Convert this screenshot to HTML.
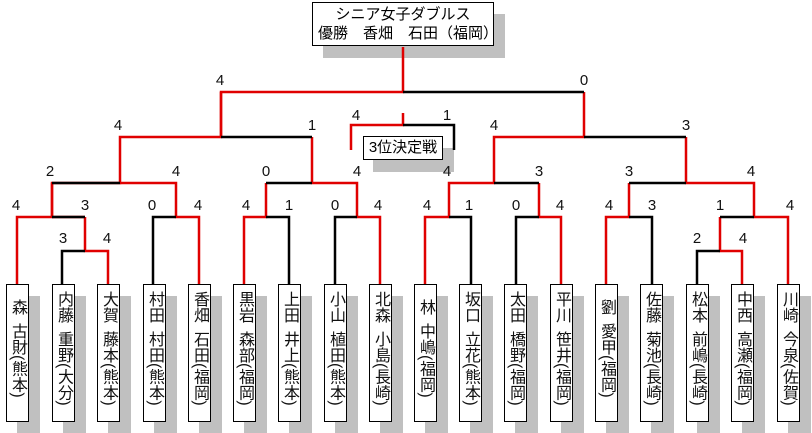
<!DOCTYPE html>
<html><head><meta charset="utf-8"><style>
body{margin:0;background:#fff;width:812px;height:433px;overflow:hidden;position:relative;font-family:"Liberation Sans","Noto Sans CJK JP",sans-serif}
.sh{position:absolute;background:#c0c0c0}
.bx{position:absolute;background:#fff;border:1px solid #000;box-sizing:border-box}
.p{width:23px;height:138px;top:284px;writing-mode:vertical-rl;text-orientation:mixed;font-size:16px;line-height:21px;padding-top:6px;color:#111}
svg{position:absolute;left:0;top:0}
</style></head><body>
<div class="sh" style="left:323px;top:14px;width:182px;height:44px"></div>
<div class="bx" style="left:312px;top:2px;width:182px;height:44px;font-size:15px;line-height:19px;padding-top:2px">
<div style="text-align:center">シニア女子ダブルス</div>
<div style="padding-left:5px;white-space:nowrap">優勝　香畑　石田（福岡）</div></div>
<div class="sh" style="left:373px;top:148px;width:81px;height:24px"></div>
<div class="bx" style="left:363px;top:136px;width:80px;height:24px;font-size:15px;line-height:22px;text-align:center">3位決定戦</div>
<svg width="812" height="433" font-family="Liberation Sans, sans-serif" font-size="15" text-anchor="middle">
<g stroke-width="2.5" fill="none">
<g stroke="#e00000">
<path d="M403 47V92H221V137H120V183H52V217H17V284"/>
<path d="M52 217V183M85 217V251H108V284M85 217H52"/>
<path d="M120 183H176V217H199V284"/>
<path d="M221 137V92M266 183V217H244V284"/>
<path d="M312 137V183H357V217H380V284"/>
<path d="M403 113V125H351V150"/>
<path d="M584 92V137H494V183H449V217H425V284"/>
<path d="M539 183V217H561V284"/>
<path d="M686 137V183H754V217H788V284"/>
<path d="M629 183V217H606V284"/>
<path d="M720 217V251H742V284"/>
</g>
<g stroke="#000">
<path d="M403 92H584M221 137H312M52 183H120M52 217H85M62 284V251H85"/>
<path d="M153 284V217H176M266 183H312M266 217H289V284M335 284V217H357"/>
<path d="M403 125H454V150"/>
<path d="M584 137H686M494 183H539M449 217H471V284M516 284V217H539"/>
<path d="M629 183H686M629 217H652V284M720 217H754M697 284V251H720"/>
</g></g>
<g fill="#111">
<text x="220" y="85">4</text><text x="584" y="85">0</text>
<text x="118" y="130">4</text><text x="312" y="130">1</text>
<text x="494" y="130">4</text><text x="686" y="130">3</text>
<text x="356" y="120">4</text><text x="447" y="120">1</text>
<text x="50" y="176">2</text><text x="176" y="176">4</text><text x="266" y="176">0</text><text x="357" y="176">4</text>
<text x="447" y="176">4</text><text x="539" y="176">3</text><text x="629" y="176">3</text><text x="751" y="176">4</text>
<text x="16" y="210">4</text><text x="85" y="210">3</text><text x="152" y="210">0</text><text x="198" y="210">4</text>
<text x="246" y="210">4</text><text x="289" y="210">1</text><text x="335" y="210">0</text><text x="378" y="210">4</text>
<text x="427" y="210">4</text><text x="469" y="210">1</text><text x="516" y="210">0</text><text x="560" y="210">4</text>
<text x="609" y="210">4</text><text x="652" y="210">3</text><text x="720" y="210">1</text><text x="790" y="210">4</text>
<text x="63" y="243">3</text><text x="107" y="243">4</text><text x="697" y="243">2</text><text x="743" y="243">4</text>
</g></svg>
<div class="sh" style="left:17px;top:296px;width:23px;height:137px"></div>
<div class="sh" style="left:63px;top:296px;width:23px;height:137px"></div>
<div class="sh" style="left:108px;top:296px;width:23px;height:137px"></div>
<div class="sh" style="left:154px;top:296px;width:23px;height:137px"></div>
<div class="sh" style="left:199px;top:296px;width:23px;height:137px"></div>
<div class="sh" style="left:244px;top:296px;width:23px;height:137px"></div>
<div class="sh" style="left:289px;top:296px;width:23px;height:137px"></div>
<div class="sh" style="left:335px;top:296px;width:23px;height:137px"></div>
<div class="sh" style="left:380px;top:296px;width:23px;height:137px"></div>
<div class="sh" style="left:425px;top:296px;width:23px;height:137px"></div>
<div class="sh" style="left:470px;top:296px;width:23px;height:137px"></div>
<div class="sh" style="left:515px;top:296px;width:23px;height:137px"></div>
<div class="sh" style="left:561px;top:296px;width:23px;height:137px"></div>
<div class="sh" style="left:606px;top:296px;width:23px;height:137px"></div>
<div class="sh" style="left:651px;top:296px;width:23px;height:137px"></div>
<div class="sh" style="left:697px;top:296px;width:23px;height:137px"></div>
<div class="sh" style="left:742px;top:296px;width:23px;height:137px"></div>
<div class="sh" style="left:788px;top:296px;width:23px;height:137px"></div>
<div class="bx p" style="left:6px;padding-top:14px">森&ensp;古財(熊本)</div>
<div class="bx p" style="left:52px">内藤&ensp;重野(大分)</div>
<div class="bx p" style="left:97px">大賀&ensp;藤本(熊本)</div>
<div class="bx p" style="left:143px">村田&ensp;村田(熊本)</div>
<div class="bx p" style="left:188px">香畑&ensp;石田(福岡)</div>
<div class="bx p" style="left:233px">黒岩&ensp;森部(福岡)</div>
<div class="bx p" style="left:278px">上田&ensp;井上(熊本)</div>
<div class="bx p" style="left:324px">小山&ensp;植田(熊本)</div>
<div class="bx p" style="left:369px">北森&ensp;小島(長崎)</div>
<div class="bx p" style="left:414px;padding-top:14px">林&ensp;中嶋(福岡)</div>
<div class="bx p" style="left:459px">坂口&ensp;立花(熊本)</div>
<div class="bx p" style="left:504px">太田&ensp;橋野(福岡)</div>
<div class="bx p" style="left:550px">平川&ensp;笹井(福岡)</div>
<div class="bx p" style="left:595px;padding-top:14px">劉&ensp;愛甲(福岡)</div>
<div class="bx p" style="left:640px">佐藤&ensp;菊池(長崎)</div>
<div class="bx p" style="left:686px">松本&ensp;前嶋(長崎)</div>
<div class="bx p" style="left:731px">中西&ensp;高瀬(福岡)</div>
<div class="bx p" style="left:777px">川崎&ensp;今泉(佐賀)</div>
</body></html>
